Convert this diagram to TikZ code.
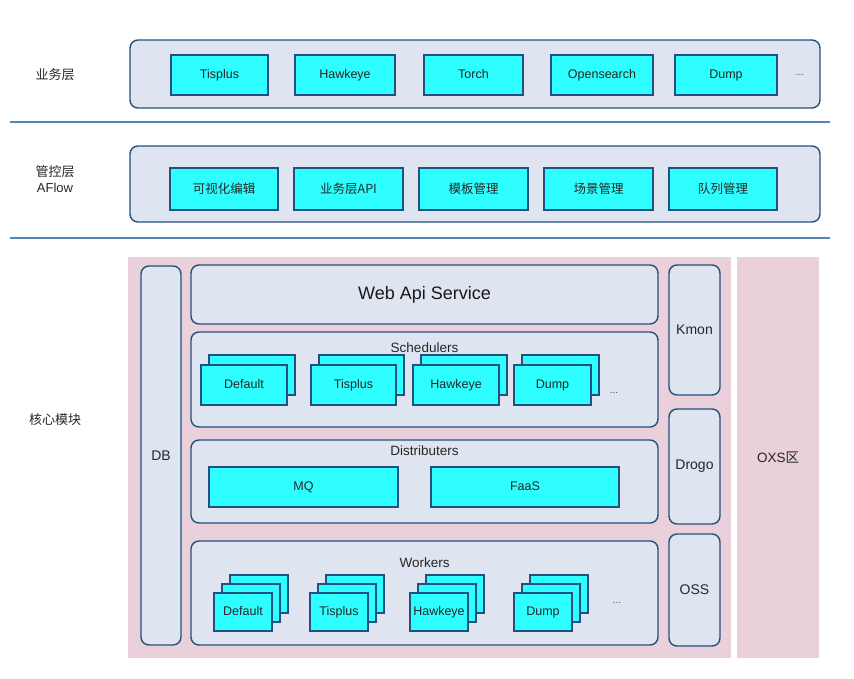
\documentclass[tikz,border=0pt]{standalone}
\usepackage{fontspec}
\setmainfont{Liberation Sans}
\newfontfamily\cjk{Noto Sans CJK SC}
\definecolor{cyanf}{RGB}{46,254,255}
\definecolor{bordc}{RGB}{36,80,126}
\definecolor{contf}{RGB}{222,229,240}
\definecolor{pinkf}{RGB}{233,208,218}
\definecolor{sepc}{RGB}{88,134,180}
\tikzset{
  cbox/.style={draw=bordc, fill=cyanf, line width=1.4pt, inner sep=0pt, font=\fontsize{12.5}{14}\selectfont, text=black!85, text height=9pt, text depth=2.5pt},
  ccbox/.style={cbox, font=\cjk\fontsize{12.5}{14}\selectfont, text height=10pt, text depth=2pt},
  cont/.style={draw=bordc, fill=contf, line width=1.4pt, rounded corners=8pt, inner sep=0pt},
  ttl/.style={font=\fontsize{13.5}{15}\selectfont, text=black!85},
  lbl/.style={font=\fontsize{13}{16}\selectfont, text=black!85, align=center},
  side/.style={cont, font=\fontsize{14}{16}\selectfont, text=black!85},
  sepline/.style={draw=sepc, line width=2.5pt},
  dots/.style={font=\fontsize{10}{12}\selectfont, text=black!70},
}
\begin{document}
\begin{tikzpicture}[x=1pt,y=-1pt]
\useasboundingbox (0,0) rectangle (854,678);
% left labels
\node[lbl] (l1) at (55,75) {\cjk 业务层};
\node[lbl] (l2) at (55,179) {{\cjk 管控层}\\AFlow};
\node[lbl] (l3) at (55,420) {\cjk 核心模块};
% separators
\coordinate (s1a) at (10,122); \coordinate (s1b) at (830,122);
\coordinate (s2a) at (10,238); \coordinate (s2b) at (830,238);
\draw[sepline] (s1a) -- (s1b);
\draw[sepline] (s2a) -- (s2b);
% top layer
\node[cont, minimum width=690, minimum height=68] (top) at (475,74) {};
\node[cbox, minimum width=97, minimum height=40] (t1) at (219.5,75) {Tisplus};
\node[cbox, minimum width=100, minimum height=40] (t2) at (345,75) {Hawkeye};
\node[cbox, minimum width=99, minimum height=40] (t3) at (473.5,75) {Torch};
\node[cbox, minimum width=102, minimum height=40] (t4) at (602,75) {Opensearch};
\node[cbox, minimum width=102, minimum height=40] (t5) at (726,75) {Dump};
\node[dots] (td) at (800,75) {...};
% control layer
\node[cont, minimum width=690, minimum height=76] (mid) at (475,184) {};
\node[ccbox, minimum width=108, minimum height=42] (m1) at (224,189) {可视化编辑};
\node[ccbox, minimum width=109, minimum height=42] (m2) at (348.5,189) {业务层API};
\node[ccbox, minimum width=109, minimum height=42] (m3) at (473.5,189) {模板管理};
\node[ccbox, minimum width=109, minimum height=42] (m4) at (598.5,189) {场景管理};
\node[ccbox, minimum width=108, minimum height=42] (m5) at (723,189) {队列管理};
% pink areas
\node[fill=pinkf, minimum width=603, minimum height=401, inner sep=0pt] (core) at (429.5,457.5) {};
\node[fill=pinkf, minimum width=82, minimum height=401, inner sep=0pt, font=\fontsize{13.5}{15}\selectfont, text=black!85] (oxs) at (778,457.5) {OXS{\cjk 区}};
% DB
\node[side, minimum width=40, minimum height=379] (db) at (161,455.5) {DB};
% web api
\node[cont, minimum width=467, minimum height=59, font=\fontsize{18}{20}\selectfont, text=black!90] (web) at (424.5,294.5) {Web Api Service};
% schedulers
\node[cont, minimum width=467, minimum height=95] (sch) at (424.5,379.5) {};
\node[ttl] (scht) at (424.5,348) {Schedulers};
\node[cbox, minimum width=86, minimum height=40] (s1b) at (252,375) {};
\node[cbox, minimum width=86, minimum height=40] (s1) at (244,385) {Default};
\node[cbox, minimum width=85, minimum height=40] (s2b) at (361.5,375) {};
\node[cbox, minimum width=85, minimum height=40] (s2) at (353.5,385) {Tisplus};
\node[cbox, minimum width=86, minimum height=40] (s3b) at (464,375) {};
\node[cbox, minimum width=86, minimum height=40] (s3) at (456,385) {Hawkeye};
\node[cbox, minimum width=77, minimum height=40] (s4b) at (560.5,375) {};
\node[cbox, minimum width=77, minimum height=40] (s4) at (552.5,385) {Dump};
\node[dots] (sd) at (614,393) {...};
% distributers
\node[cont, minimum width=467, minimum height=83] (dis) at (424.5,481.5) {};
\node[ttl] (dist) at (424.5,451) {Distributers};
\node[cbox, minimum width=189, minimum height=40] (mq) at (303.5,487) {MQ};
\node[cbox, minimum width=188, minimum height=40] (faas) at (525,487) {FaaS};
% workers
\node[cont, minimum width=467, minimum height=104] (wk) at (424.5,593) {};
\node[ttl] (wkt) at (424.5,563) {Workers};
\foreach \n/\x/\t in {w1/243/Default, w2/339/Tisplus, w3/439/Hawkeye, w4/543/Dump}{
  \node[cbox, minimum width=58, minimum height=38] (\n c) at (\x+16,594) {};
  \node[cbox, minimum width=58, minimum height=38] (\n b) at (\x+8,603) {};
  \node[cbox, minimum width=58, minimum height=38] (\n) at (\x,612) {\t};
}
\node[dots] (wd) at (617,603) {...};
% right column
\node[side, minimum width=51, minimum height=130] (kmon) at (694.5,330) {Kmon};
\node[side, minimum width=51, minimum height=115] (drogo) at (694.5,466.5) {Drogo};
\node[side, minimum width=51, minimum height=112] (oss) at (694.5,590) {OSS};
\end{tikzpicture}
\end{document}
